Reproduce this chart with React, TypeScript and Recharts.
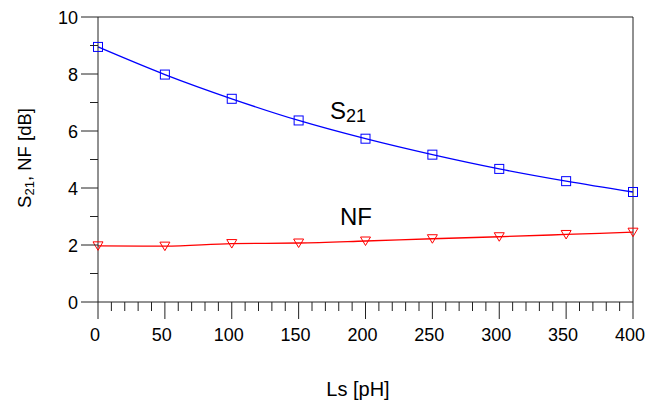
import React from "react";
import { LineChart, Line, XAxis, YAxis, ReferenceLine, Customized } from "recharts";

const lsValues = [0, 50, 100, 150, 200, 250, 300, 350, 400];
const s21Values = [8.95, 7.98, 7.13, 6.37, 5.73, 5.17, 4.67, 4.24, 3.86];
const nfValues = [1.97, 1.96, 2.05, 2.07, 2.14, 2.22, 2.29, 2.37, 2.45];

const xTicks = [0, 10, 20, 30, 40, 50, 60, 70, 80, 90, 100, 110, 120, 130, 140, 150, 160, 170, 180, 190, 200, 210, 220, 230, 240, 250, 260, 270, 280, 290, 300, 310, 320, 330, 340, 350, 360, 370, 380, 390, 400];
const xLabeled = [0, 50, 100, 150, 200, 250, 300, 350, 400];
const yTicks = [0, 1, 2, 3, 4, 5, 6, 7, 8, 9, 10];
const yLabeled = [0, 2, 4, 6, 8, 10];

const data = lsValues.map((ls, i) => ({ ls, s21: s21Values[i], nf: nfValues[i] }));

const FONT = "'Liberation Sans', Arial, sans-serif";
const AXIS = "#222";

const XTick = (props: any) => {
  const { x, y, payload } = props;
  const major = xLabeled.includes(payload.value);
  return (
    <g>
      <line x1={x} y1={y} x2={x} y2={y + (major ? 17 : 9)} stroke={AXIS} strokeWidth={1} />
      {major && (
        <text x={x - 3} y={y + 39} textAnchor="middle" fontSize={18} fontFamily={FONT} fill="#000">
          {payload.value}
        </text>
      )}
    </g>
  );
};

const YTick = (props: any) => {
  const { x, y, payload } = props;
  const major = yLabeled.includes(payload.value);
  return (
    <g>
      <line x1={x} y1={y} x2={x - (major ? 17 : 8)} y2={y} stroke={AXIS} strokeWidth={1} />
      {major && (
        <text x={x - 20} y={y + 6.5} textAnchor="end" fontSize={18} fontFamily={FONT} fill="#000">
          {payload.value}
        </text>
      )}
    </g>
  );
};

const SquareDot = (props: any) => {
  const { cx, cy } = props;
  if (cx == null || cy == null) return null;
  return <rect x={cx - 4.5} y={cy - 4.5} width={9} height={9} fill="none" stroke="#0000ff" strokeWidth={1} />;
};

const TriDot = (props: any) => {
  const { cx, cy } = props;
  if (cx == null || cy == null) return null;
  return (
    <path
      d={`M${cx - 5},${cy - 4} L${cx + 5},${cy - 4} L${cx},${cy + 4.5} Z`}
      fill="none"
      stroke="#ff0000"
      strokeWidth={1}
    />
  );
};

const Annotations = () => (
  <g fontFamily={FONT} fill="#000">
    <text x={330} y={119} fontSize={24}>
      S<tspan fontSize={18} dy={3}>21</tspan>
    </text>
    <text x={340} y={225} fontSize={24}>NF</text>
    <text x={358} y={396} fontSize={20} textAnchor="middle">Ls [pH]</text>
    <text x={31} y={158} fontSize={18.5} textAnchor="middle" transform="rotate(-90, 31, 158)">
      S<tspan fontSize={13} dy={3}>21</tspan>
      <tspan dy={-3}>, NF [dB]</tspan>
    </text>
  </g>
);

export default function App() {
  return (
    <div style={{ position: "absolute", left: 0, top: 0, width: 645, height: 403, background: "#fff" }}>
      <LineChart width={645} height={403} data={data} margin={{ top: 17, right: 12, bottom: 0, left: 0 }}>
        <XAxis
          dataKey="ls"
          type="number"
          domain={[0, 400]}
          ticks={xTicks}
          interval={0}
          height={101}
          tickSize={0}
          tickMargin={0}
          tickLine={false}
          axisLine={{ stroke: AXIS }}
          tick={<XTick />}
        />
        <YAxis
          type="number"
          domain={[0, 10]}
          ticks={yTicks}
          interval={0}
          width={98}
          tickSize={0}
          tickMargin={0}
          tickLine={false}
          axisLine={{ stroke: AXIS }}
          tick={<YTick />}
        />
        <ReferenceLine y={10} stroke={AXIS} strokeWidth={1} />
        <ReferenceLine x={400} stroke={AXIS} strokeWidth={1} />
        <Line
          type="monotone"
          dataKey="s21"
          stroke="#0000ff"
          strokeWidth={1.3}
          dot={<SquareDot />}
          activeDot={false}
          isAnimationActive={false}
        />
        <Line
          type="monotone"
          dataKey="nf"
          stroke="#ff0000"
          strokeWidth={1.3}
          dot={<TriDot />}
          activeDot={false}
          isAnimationActive={false}
        />
        <Customized component={Annotations} />
      </LineChart>
    </div>
  );
}
